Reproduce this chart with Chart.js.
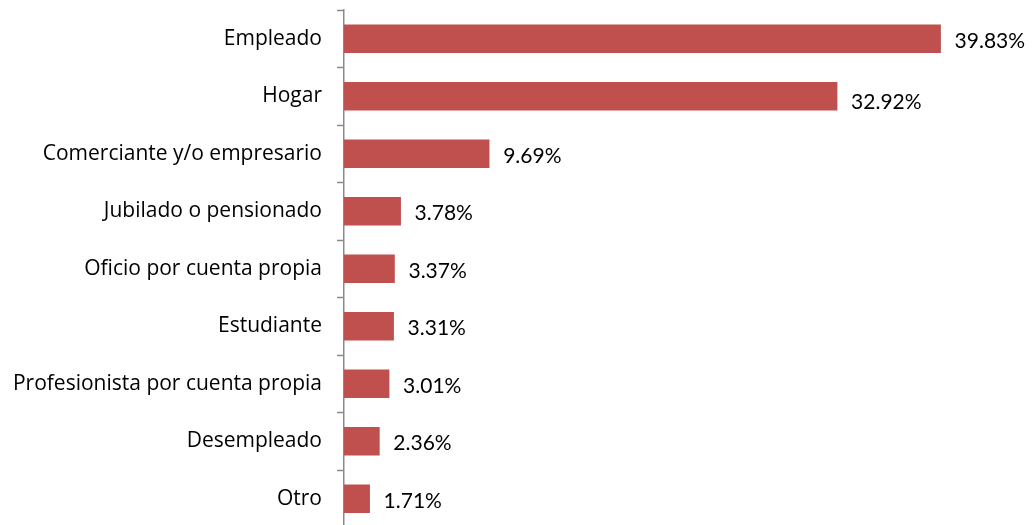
<!DOCTYPE html>
<html>
<head>
<meta charset="utf-8">
<script src="https://cdn.jsdelivr.net/npm/chart.js@4/dist/chart.umd.min.js"></script>
<style>
  html, body { margin: 0; padding: 0; background: #fff; overflow: hidden; }
  #wrap { width: 1034px; height: 528px; position: relative; }
</style>
</head>
<body>
<div id="wrap"><canvas id="c"></canvas></div>
<script>
// Occupation categories and their share of respondents (%)
const categories = [
  'Empleado',
  'Hogar',
  'Comerciante y/o empresario',
  'Jubilado o pensionado',
  'Oficio por cuenta propia',
  'Estudiante',
  'Profesionista por cuenta propia',
  'Desempleado',
  'Otro'
];
const shares = [39.83, 32.92, 9.69, 3.78, 3.37, 3.31, 3.01, 2.36, 1.71];

const CAT_FONT = '"Open Sans", "Noto Sans", sans-serif';
const VAL_FONT = 'Lato, "Open Sans", sans-serif';

// Writes the percentage just past the end of each bar
const valueLabels = {
  id: 'valueLabels',
  afterDatasetsDraw(chart, args, opts) {
    const ctx = chart.ctx;
    const meta = chart.getDatasetMeta(0);
    ctx.save();
    ctx.font = opts.size + 'px ' + VAL_FONT;
    ctx.fillStyle = opts.color;
    ctx.textAlign = 'left';
    ctx.textBaseline = 'middle';
    meta.data.forEach((bar, i) => {
      const v = chart.data.datasets[0].data[i];
      const dy = opts.dy + (opts.shift[i] || 0);
      ctx.fillText(v.toFixed(2) + '%', bar.x + opts.gap, bar.y + dy);
    });
    ctx.restore();
  }
};

new Chart(document.getElementById('c'), {
  type: 'bar',
  data: {
    labels: categories,
    datasets: [{
      data: shares,
      backgroundColor: '#C0504D',
      borderWidth: 0,
      barThickness: 28
    }]
  },
  options: {
    indexAxis: 'y',
    responsive: true,
    maintainAspectRatio: false,
    animation: false,
    layout: { padding: { top: 10, right: 16, bottom: 0.5, left: 0 } },
    scales: {
      x: { display: false, min: 0, max: 45 },
      y: {
        type: 'category',
        afterFit(scale) {
          scale.width = 344;
          scale.paddingTop = 0;
          scale.paddingBottom = 0;
        },
        grid: {
          display: true,
          drawOnChartArea: false,
          drawTicks: true,
          tickLength: 7,
          tickWidth: 1.5,
          offset: true,
          color: '#8a8a8a'
        },
        border: { display: true, color: '#8a8a8a', width: 1.5 },
        ticks: {
          color: '#000',
          padding: 15,
          font: { family: CAT_FONT, size: 21 }
        }
      }
    },
    plugins: {
      legend: { display: false },
      tooltip: { enabled: false },
      valueLabels: { size: 21, color: '#000', gap: 14, dy: 2, shift: { 1: 4 } }
    }
  },
  plugins: [valueLabels]
});
</script>
</body>
</html>
